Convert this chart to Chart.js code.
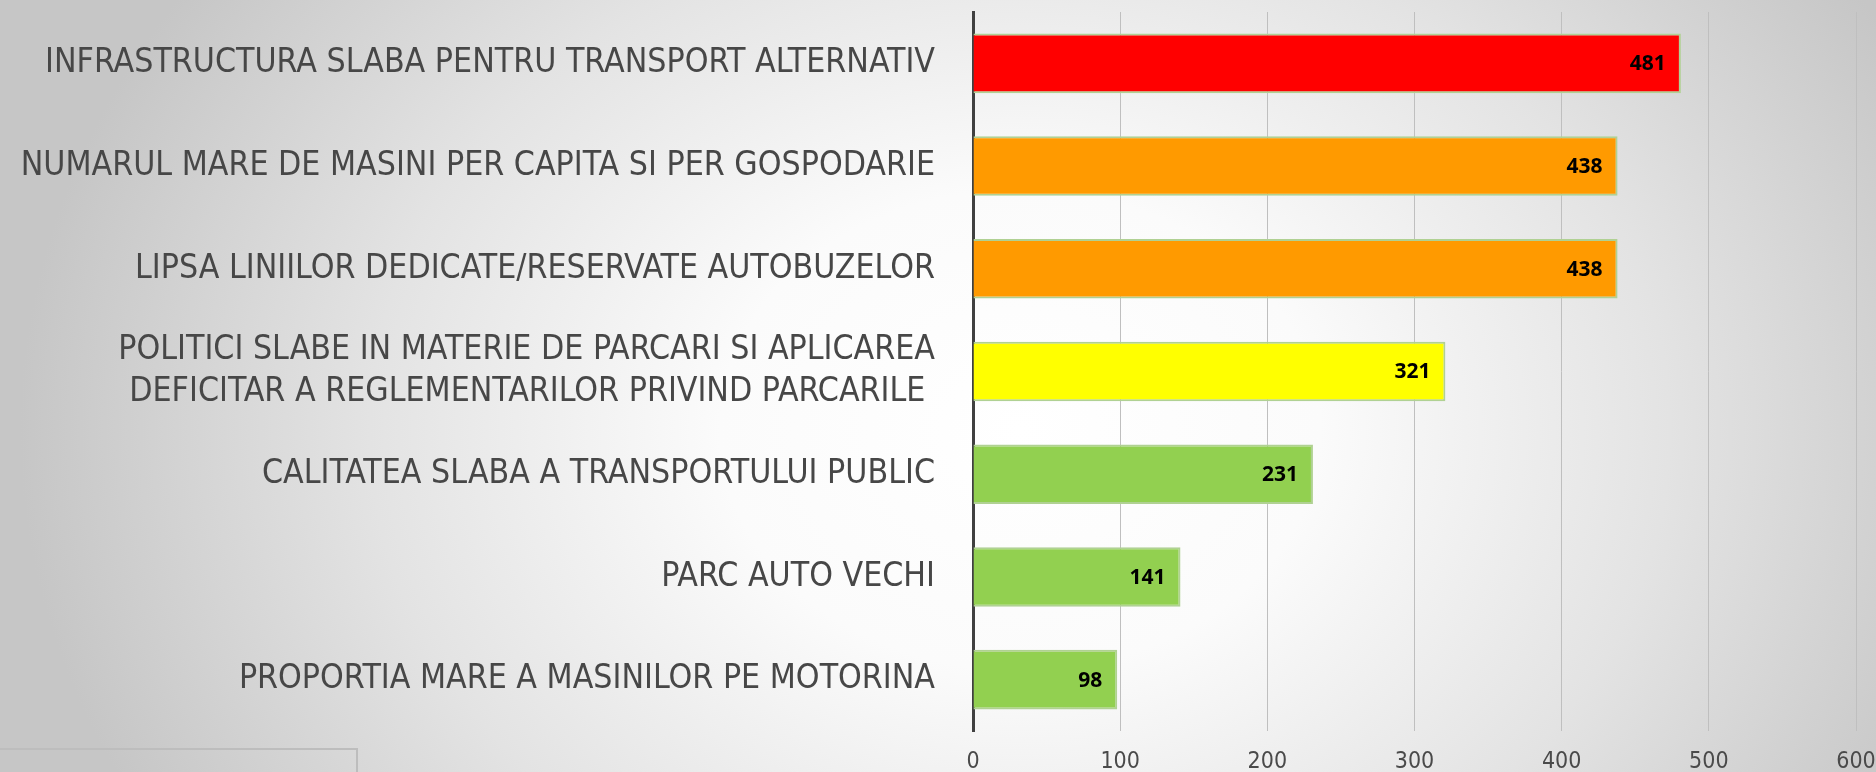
<!DOCTYPE html>
<html>
<head>
<meta charset="utf-8">
<title>Probleme transport</title>
<script src="https://cdn.jsdelivr.net/npm/chart.js@4"></script>
<style>
  html, body {
    margin: 0;
    padding: 0;
    width: 1876px;
    height: 772px;
    overflow: hidden;
  }
  body {
    position: relative;
    background: radial-gradient(ellipse 1000px 800px at 1020px 430px, #ffffff 0%, #fbfbfb 30%, #e3e3e3 65%, #c6c6c6 100%);
  }
  #chartBox {
    position: absolute;
    left: 0;
    top: 0;
    width: 1876px;
    height: 772px;
  }
  /* kotak dekorasi di pojok kiri bawah */
  .frame {
    position: absolute;
    left: -2px;
    top: 748px;
    width: 356px;
    height: 60px;
    border: 2px solid #bdbdbd;
  }
</style>
</head>
<body>
<div class="frame"></div>
<div id="chartBox">
  <canvas id="barChart" width="1876" height="772"></canvas>
</div>

<script>
// data
const categories = [
  "INFRASTRUCTURA SLABA PENTRU TRANSPORT ALTERNATIV",
  "NUMARUL MARE DE MASINI PER CAPITA SI PER GOSPODARIE",
  "LIPSA LINIILOR DEDICATE/RESERVATE AUTOBUZELOR",
  ["POLITICI SLABE IN MATERIE DE PARCARI SI APLICAREA", "DEFICITAR A REGLEMENTARILOR PRIVIND PARCARILE "],
  "CALITATEA SLABA A TRANSPORTULUI PUBLIC",
  "PARC AUTO VECHI",
  "PROPORTIA MARE A MASINILOR PE MOTORINA",
];
const values = [481, 438, 438, 321, 231, 141, 98];
const barColors = ["#ff0000", "#ff9a00", "#ff9a00", "#ffff00", "#92d050", "#92d050", "#92d050"];
const xTicks = [0, 100, 200, 300, 400, 500, 600];

const narrowFont = "'Liberation Sans Narrow', 'DejaVu Sans Condensed', 'Open Sans', sans-serif";

// plugin kecil untuk label nilai di ujung bar
const valueLabels = {
  id: "valueLabels",
  afterDatasetsDraw(chart) {
    const ctx = chart.ctx;
    const meta = chart.getDatasetMeta(0);
    ctx.save();
    ctx.font = "bold 21px 'Open Sans', sans-serif";
    ctx.fillStyle = "#000000";
    ctx.textAlign = "right";
    ctx.textBaseline = "middle";
    meta.data.forEach((bar, i) => {
      ctx.fillText(String(values[i]), bar.x - 15, bar.y + 1);
    });
    ctx.restore();
  },
};

document.addEventListener("DOMContentLoaded", function () {
  const config = {
    type: "bar",
    data: {
      labels: categories,
      datasets: [
        {
          data: values,
          backgroundColor: barColors,
          borderColor: "#b0d193",
          borderWidth: 2,
          barPercentage: 0.58,
          categoryPercentage: 1,
        },
      ],
    },
    options: {
      indexAxis: "y",
      responsive: false,
      animation: false,
      layout: {
        padding: { top: 12, right: 20, bottom: 0, left: 0 },
      },
      plugins: {
        legend: { display: false },
        tooltip: { enabled: false },
      },
      scales: {
        x: {
          min: 0,
          max: 600,
          afterBuildTicks: (s) => {
            s.ticks = xTicks.map((v) => ({ value: v }));
          },
          afterFit: (s) => {
            s.height = 41;
            s.paddingLeft = 0;
            s.paddingRight = 0;
          },
          grid: {
            color: "#bfbfbf",
            lineWidth: 1,
            drawTicks: false,
          },
          border: { display: false },
          ticks: {
            padding: 17,
            color: "#4a4a4a",
            font: { family: narrowFont, size: 23 },
          },
        },
        y: {
          afterFit: (s) => {
            s.width = 973;
            s.paddingTop = 0;
            s.paddingBottom = 0;
          },
          grid: { display: false, drawTicks: false },
          border: { display: true, color: "#404040", width: 3 },
          ticks: {
            padding: 38,
            color: "#474747",
            font: { family: narrowFont, size: 33.6, lineHeight: 1.25 },
          },
        },
      },
    },
    plugins: [valueLabels],
  };

  const barChart = new Chart(document.getElementById("barChart"), config);
});
</script>
</body>
</html>
